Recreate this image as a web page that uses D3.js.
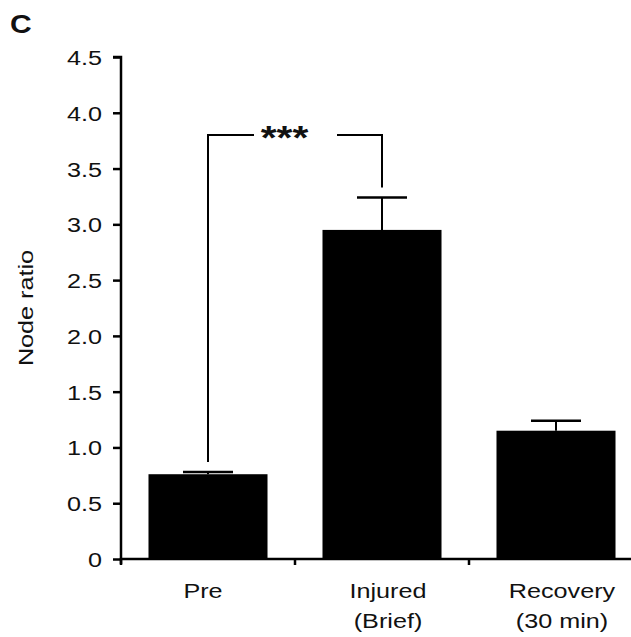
<!DOCTYPE html>
<html><head><meta charset="utf-8">
<script src="https://cdn.jsdelivr.net/npm/d3@7"></script>
<style>body{margin:0;background:#fff}svg{display:block}text{font-family:"Liberation Sans",Arial,sans-serif;fill:#111}</style>
</head><body>
<script>
const categories = ["Pre", "Injured|(Brief)", "Recovery|(30 min)"];
const means = [0.76, 2.95, 1.15];
const errors = [0.02, 0.29, 0.09];
const yTicks = [0, 0.5, 1.0, 1.5, 2.0, 2.5, 3.0, 3.5, 4.0, 4.5];
const yLabel = "Node ratio";
const panelLabel = "C";
const sigLabel = "***";
const sigLevel = 3.8;

const W = 631, H = 637, SX = 1.2;
const svg = d3.select("body").append("svg").attr("width", W).attr("height", H);
const y = d3.scaleLinear().domain([0, 4.5]).range([559, 57]);
const x = d3.scaleBand().domain(categories).range([121, 643]).paddingInner(0.316).paddingOuter(0.158);
const xb = d3.scaleBand().domain(categories).range([121, 643]);

function label(px, py, txt, size, anchor, weight, rot) {
  return svg.append("text")
    .attr("transform", `translate(${px},${py})${rot ? " rotate(" + rot + ")" : ""} scale(${SX},1)`)
    .attr("text-anchor", anchor).attr("font-size", size).attr("font-weight", weight || "normal").text(txt);
}

// bars
svg.selectAll("rect.bar").data(categories).enter().append("rect")
  .attr("x", d => x(d)).attr("width", x.bandwidth())
  .attr("y", (d, i) => y(means[i])).attr("height", (d, i) => y(0) - y(means[i]))
  .attr("fill", "#000");

// error bars
const capW = 50;
categories.forEach((c, i) => {
  const cx = x(c) + x.bandwidth() / 2;
  svg.append("line").attr("x1", cx).attr("x2", cx).attr("y1", y(means[i])).attr("y2", y(means[i] + errors[i]))
    .attr("stroke", "#000").attr("stroke-width", 2);
  svg.append("line").attr("x1", cx - capW / 2).attr("x2", cx + capW / 2)
    .attr("y1", y(means[i] + errors[i])).attr("y2", y(means[i] + errors[i]))
    .attr("stroke", "#000").attr("stroke-width", 2.5);
});

// y axis
const yAxis = d3.axisLeft(y).tickValues(yTicks).tickSize(8).tickPadding(11)
  .tickFormat(d => d === 0 ? "0" : d3.format(".1f")(d));
const ga = svg.append("g").attr("transform", "translate(121,0)").call(yAxis);
ga.select(".domain").attr("stroke", "#000").attr("stroke-width", 2.5).attr("d", `M-8,${y(4.5)}H0V${y(0) + 5}`);
ga.selectAll(".tick line").attr("stroke", "#000").attr("stroke-width", 2.5);
ga.selectAll(".tick text").attr("font-size", 21).attr("font-family", "Liberation Sans, Arial, sans-serif").attr("fill", "#111")
  .attr("dy", null).attr("x", null)
  .attr("transform", `translate(-19,7.5) scale(${SX},1)`);

// x axis
svg.append("line").attr("x1", 119.75).attr("x2", 631).attr("y1", y(0)).attr("y2", y(0)).attr("stroke", "#000").attr("stroke-width", 2.5);
categories.forEach(c => {
  svg.append("line").attr("x1", xb(c)).attr("x2", xb(c)).attr("y1", y(0)).attr("y2", y(0) + 6)
    .attr("stroke", "#000").attr("stroke-width", 2.5);
});
// x labels
categories.forEach(c => {
  const cx = x(c) + x.bandwidth() / 2;
  c.split("|").forEach((l, j) => {
    label(c === "Pre" ? cx - 5 : cx + 6, 598 + j * 30, l, 21, "middle");
  });
});

// y label
label(33, 308, yLabel, 21, "middle", "normal", -90);
// note: for rotated label the stretch should be along text direction
// panel label
label(10, 33, panelLabel, 25, "start", "bold");

// significance bracket
const x0 = x(categories[0]) + x.bandwidth() / 2;
const x1 = x(categories[1]) + x.bandwidth() / 2;
const ys = y(sigLevel);
svg.append("path").attr("d", `M${x0},${y(means[0] + errors[0]) - 10}V${ys}H${x0 + 46}`)
  .attr("fill", "none").attr("stroke", "#000").attr("stroke-width", 2);
svg.append("path").attr("d", `M${x1 - 45},${ys}H${x1}V${y(means[1] + errors[1]) - 10}`)
  .attr("fill", "none").attr("stroke", "#000").attr("stroke-width", 2);
label(284.5, 149, sigLabel, 34, "middle", "bold");
</script>
</body></html>
